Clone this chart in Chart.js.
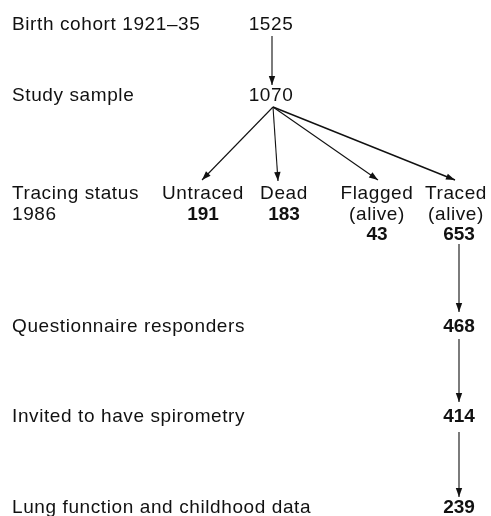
<!DOCTYPE html>
<html>
<head>
<meta charset="utf-8">
<script src="https://cdn.jsdelivr.net/npm/chart.js@4"></script>
<style>
  body { margin: 0; background: #fff; }
  #wrap { width: 491px; height: 516px; }
</style>
</head>
<body>
<div id="wrap"><canvas id="flow"></canvas></div>
<script>
// Dữ liệu sơ đồ
const stageLabels = ["Birth cohort 1921–35", "Study sample", "Questionnaire responders", "Invited to have spirometry", "Lung function and childhood data"];
const stageCounts = [1525, 1070, 468, 414, 239];
const tracingTitle = ["Tracing status", "1986"];
const tracingCategories = [["Untraced"], ["Dead"], ["Flagged", "(alive)"], ["Traced", "(alive)"]];
const tracingCounts = [191, 183, 43, 653];

// Vị trí (toạ độ trên trục, 1 đơn vị = 1px)
const labelX = 12;
const stageY = [30, 101, 332, 422, 513];
const stageX = [271, 271, 459, 459, 459];
const tracingX = [203, 284, 377, 456];
const tracingY = [199, 220, 240];

const edges = [
  [[272, 36], [272, 85]],
  [[273, 107], [202, 180]],
  [[273, 107], [278, 181]],
  [[273, 107], [378, 180]],
  [[273, 107], [455, 180]],
  [[459, 244], [459, 312]],
  [[459, 339], [459, 402]],
  [[459, 432], [459, 497]],
];

const datasets = edges.map((e, i) => ({
  type: "line",
  data: e.map(p => ({ x: p[0], y: p[1] })),
  borderColor: "#111",
  borderWidth: i === 4 ? 1.4 : 1.1,
  pointRadius: 0,
  clip: false,
  fill: false,
}));

const flowPlugin = {
  id: "flow",
  afterDatasetsDraw(chart) {
    const ctx = chart.ctx;
    const xs = chart.scales.x, ys = chart.scales.y;
    const X = v => xs.getPixelForValue(v), Y = v => ys.getPixelForValue(v);
    ctx.save();
    // mũi tên
    chart.data.datasets.forEach((ds, i) => {
      const pts = chart.getDatasetMeta(i).data;
      const a = pts[0], b = pts[pts.length - 1];
      const ang = Math.atan2(b.y - a.y, b.x - a.x);
      const len = 9, hw = 3.2;
      ctx.fillStyle = "#111";
      ctx.beginPath();
      ctx.moveTo(b.x, b.y);
      ctx.lineTo(b.x - len * Math.cos(ang) + hw * Math.sin(ang), b.y - len * Math.sin(ang) - hw * Math.cos(ang));
      ctx.lineTo(b.x - len * Math.cos(ang) - hw * Math.sin(ang), b.y - len * Math.sin(ang) + hw * Math.cos(ang));
      ctx.closePath();
      ctx.fill();
    });
    // chữ
    ctx.fillStyle = "#111";
    ctx.textBaseline = "alphabetic";
    const reg = "19px 'Liberation Sans', Arial, sans-serif";
    const bold = "bold 19px 'Liberation Sans', Arial, sans-serif";
    ctx.letterSpacing = "0.6px";
    ctx.font = reg;
    ctx.textAlign = "left";
    stageLabels.forEach((t, i) => ctx.fillText(t, X(labelX), Y(stageY[i])));
    tracingTitle.forEach((t, i) => ctx.fillText(t, X(labelX), Y(tracingY[i])));
    ctx.textAlign = "center";
    stageCounts.forEach((c, i) => {
      ctx.font = i < 2 ? reg : bold;
      ctx.letterSpacing = i < 2 ? "0.6px" : "0px";
      ctx.fillText(String(c), X(stageX[i]), Y(stageY[i]));
    });
    tracingCategories.forEach((lines, i) => {
      ctx.font = reg;
      ctx.letterSpacing = "0.6px";
      lines.forEach((t, j) => ctx.fillText(t, X(tracingX[i]), Y(tracingY[j])));
      ctx.font = bold;
      ctx.letterSpacing = "0px";
      const cx = i === 3 ? 459 : tracingX[i];
      ctx.fillText(String(tracingCounts[i]), X(cx), Y(tracingY[lines.length]));
    });
    ctx.restore();
  },
};

new Chart(document.getElementById("flow"), {
  type: "scatter",
  data: { datasets },
  options: {
    responsive: true,
    maintainAspectRatio: false,
    animation: false,
    events: [],
    layout: { padding: 0 },
    plugins: { legend: { display: false }, tooltip: { enabled: false } },
    scales: {
      x: { type: "linear", min: 0, max: 491, display: false },
      y: { type: "linear", min: 0, max: 516, reverse: true, display: false },
    },
  },
  plugins: [flowPlugin],
});
</script>
</body>
</html>
